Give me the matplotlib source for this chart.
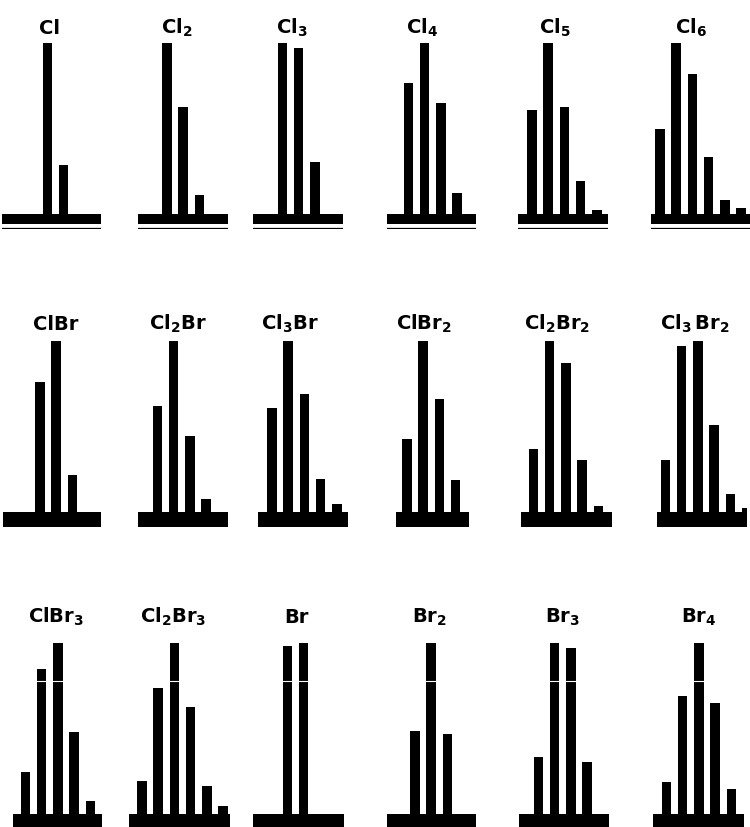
import numpy as np
import matplotlib.pyplot as plt
from matplotlib.lines import Line2D

plt.rcParams['font.family'] = ['DejaVu Sans']
plt.rcParams['mathtext.fontset'] = 'dejavusans'
plt.rcParams['mathtext.default'] = 'bf'

# relative intensities of the isotope peaks (M, M+2, M+4, ...), tallest = 1
labels = ["Cl", "Cl$_2$", "Cl$_3$", "Cl$_4$", "Cl$_5$", "Cl$_6$",
          "ClBr", "Cl$_2$Br", "Cl$_3$Br", "ClBr$_2$", "Cl$_2$Br$_2$", r"Cl$_3\,$Br$_2$",
          "ClBr$_3$", "Cl$_2$Br$_3$", "Br", "Br$_2$", "Br$_3$", "Br$_4$"]

cl1 = [1.0, 0.29]
cl2 = [1.0, 0.63, 0.115]
cl3 = [1.0, 0.97, 0.31]
cl4 = [0.77, 1.0, 0.65, 0.13]
cl5 = [0.61, 1.0, 0.63, 0.20, 0.03]
cl6 = [0.50, 1.0, 0.82, 0.34, 0.09, 0.04]
clbr = [0.76, 1.0, 0.22]
cl2br = [0.62, 1.0, 0.45, 0.08]
cl3br = [0.61, 1.0, 0.69, 0.20, 0.05]
clbr2 = [0.43, 1.0, 0.66, 0.19]
cl2br2 = [0.37, 1.0, 0.87, 0.31, 0.04]
cl3br2 = [0.31, 0.97, 1.0, 0.51, 0.11, 0.03]
clbr3 = [0.25, 0.85, 1.0, 0.48, 0.08]
cl2br3 = [0.20, 0.74, 1.0, 0.63, 0.17, 0.05]
br1 = [0.98, 1.0]
br2 = [0.49, 1.0, 0.47]
br3 = [0.34, 1.0, 0.97, 0.31]
br4 = [0.19, 0.69, 1.0, 0.65, 0.15]

series = [cl1, cl2, cl3, cl4, cl5, cl6,
          clbr, cl2br, cl3br, clbr2, cl2br2, cl3br2,
          clbr3, cl2br3, br1, br2, br3, br4]

# layout in pixels: baseline left/right, centre of first bar, title centre
base_left = [2, 138, 253, 387, 518, 651,
             3, 138, 258, 396, 521, 657,
             13, 129, 253, 387, 519, 653]
base_right = [101, 228, 343, 476, 608, 750,
              101, 228, 348, 469, 612, 747,
              102, 230, 344, 476, 609, 744]
first_bar = [47.5, 167, 282.5, 408.5, 532, 660,
             40, 157.5, 272, 407, 533.5, 665.5,
             25.5, 142, 287.5, 415, 538.5, 666.5]
title_x = [50, 177, 292, 422, 555, 691,
           56, 178, 290, 424, 557, 695,
           56, 173, 296, 430, 563, 699]
row_base_top = [216, 514, 816]
row_base_bot = [225, 528, 832]
row_title_y = [34, 330, 623]

W, H = 750, 828
UNIT = 172.0   # pixels for intensity 1.0
PITCH = 16.2
BAR_W = 9.5 / PITCH

fig = plt.figure(figsize=(7.5, 8.28), dpi=100)

for i, vals in enumerate(series):
    row = i // 6
    bt, bb = row_base_top[row], row_base_bot[row]
    extra = 5 if row == 0 else 0
    x0, x1 = base_left[i], base_right[i]
    ytop = bt - UNIT
    ax = fig.add_axes([x0 / W, 1 - (bb + extra) / H, (x1 - x0) / W, (bb + extra - ytop) / H])
    ax.set_xlim((x0 - first_bar[i]) / PITCH, (x1 - first_bar[i]) / PITCH)
    ylo = -(bb + extra - bt) / UNIT
    ax.set_ylim(ylo, 1.0)
    ax.bar(np.arange(len(vals)), vals, width=BAR_W, color="black", bottom=0)
    ax.axhspan(-(bb - bt) / UNIT, 0.003, color="black", lw=0)
    if row == 0:
        ax.axhline(ylo + 1.5 / UNIT, color="black", lw=0.9)
    ax.axis("off")
    fig.text(title_x[i] / W, 1 - row_title_y[row] / H, labels[i],
             ha="center", va="baseline", fontsize=14, fontweight="bold")

# scan artefact: thin white line across the bottom row
fig.add_artist(Line2D([0, 1], [1 - 682 / H, 1 - 682 / H], color="white", lw=0.8,
                      transform=fig.transFigure, zorder=10))

fig.savefig("out.png", dpi=100, facecolor="white")
